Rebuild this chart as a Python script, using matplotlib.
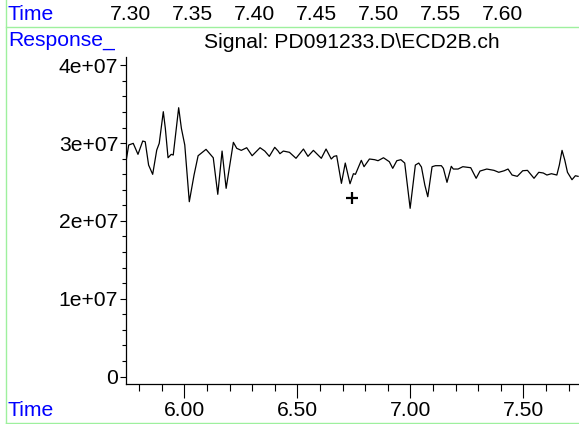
import matplotlib
matplotlib.use("Agg")
import matplotlib.pyplot as plt
from matplotlib.lines import Line2D
from matplotlib.ticker import MultipleLocator

plt.rcParams['font.family'] = ['Liberation Sans', 'DejaVu Sans']

# trace (time in min, response)
times = [5.742, 5.754, 5.774, 5.795, 5.816, 5.827, 5.842, 5.860, 5.878, 5.889,
         5.907, 5.916, 5.928, 5.942, 5.951, 5.975, 5.987, 6.002, 6.022, 6.043,
         6.061, 6.096, 6.128, 6.148, 6.167, 6.185, 6.217, 6.232, 6.252, 6.276,
         6.300, 6.335, 6.356, 6.376, 6.400, 6.415, 6.423, 6.438, 6.465, 6.494,
         6.527, 6.547, 6.571, 6.606, 6.627, 6.650, 6.662, 6.674, 6.695, 6.712,
         6.733, 6.748, 6.757, 6.783, 6.795, 6.819, 6.842, 6.857, 6.881, 6.907,
         6.922, 6.940, 6.958, 6.975, 6.999, 7.022, 7.037, 7.049, 7.064, 7.077,
         7.096, 7.111, 7.137, 7.146, 7.162, 7.181, 7.190, 7.211, 7.232, 7.267,
         7.291, 7.308, 7.338, 7.370, 7.391, 7.415, 7.432, 7.450, 7.473, 7.497,
         7.518, 7.547, 7.568, 7.588, 7.604, 7.624, 7.648, 7.659, 7.671, 7.683,
         7.695, 7.715, 7.730, 7.742]
response = [2.761, 2.976, 2.997, 2.856, 3.027, 3.018, 2.718, 2.599, 2.911, 2.997,
            3.404, 3.190, 2.812, 2.856, 2.847, 3.455, 3.190, 2.976, 2.247, 2.590,
            2.838, 2.920, 2.812, 2.342, 2.898, 2.419, 3.010, 2.933, 2.907, 2.941,
            2.838, 2.941, 2.898, 2.830, 2.946, 2.898, 2.864, 2.898, 2.882, 2.805,
            2.924, 2.830, 2.907, 2.805, 2.924, 2.796, 2.830, 2.838, 2.483, 2.744,
            2.478, 2.607, 2.599, 2.779, 2.697, 2.796, 2.787, 2.774, 2.812, 2.761,
            2.676, 2.774, 2.787, 2.744, 2.162, 2.718, 2.744, 2.693, 2.461, 2.311,
            2.697, 2.710, 2.710, 2.676, 2.496, 2.702, 2.667, 2.667, 2.697, 2.684,
            2.548, 2.641, 2.667, 2.650, 2.625, 2.645, 2.667, 2.590, 2.573, 2.645,
            2.650, 2.548, 2.625, 2.616, 2.590, 2.607, 2.590, 2.718, 2.907, 2.783,
            2.625, 2.530, 2.581, 2.573]
response = [v * 1e7 for v in response]

cross_time = [6.742]
cross_resp = [2.294e7]

y_ticks = [0, 1e7, 2e7, 3e7, 4e7]
y_labels = ["0", "1e+07", "2e+07", "3e+07", "4e+07"]
x_ticks = [6.0, 6.5, 7.0, 7.5]
x_labels = ["6.00", "6.50", "7.00", "7.50"]
top_ticks = [7.30, 7.35, 7.40, 7.45, 7.50, 7.55, 7.60]
top_labels = ["7.30", "7.35", "7.40", "7.45", "7.50", "7.55", "7.60"]
signal_name = "Signal: PD091233.D\\ECD2B.ch"

FS = 15.2
BLUE = "#0000ff"
GREEN = "#9ef09e"

fig = plt.figure(figsize=(5.79, 4.24), dpi=100)

# header strip with its own time scale (labels centred on y = 14 px)
hdr = fig.add_axes([0, 1 - 14 / 424, 1, 0.0001])
hdr.set_xlim(7.195, 7.662)
hdr.set_xticks(top_ticks)
hdr.set_xticklabels(top_labels, fontsize=FS)
hdr.tick_params(axis='x', length=0, pad=0)
for lab in hdr.get_xticklabels():
    lab.set_va('center')
hdr.set_yticks([])
for s in hdr.spines.values():
    s.set_visible(False)
hdr.patch.set_alpha(0)

ax = fig.add_axes([126 / 579, 1 - 384 / 424, 1 - 126 / 579, (384 - 57) / 424])
ax.plot(times, response, color='black', lw=0.9, solid_joinstyle='round')
ax.plot(cross_time, cross_resp, marker='+', color='black', ms=8.5, mew=1.6, ls='none')

ax.set_xlim(5.742, 7.746)
ax.set_ylim(-0.96e6, 4.107e7)
ax.set_xticks(x_ticks)
ax.set_xticklabels(x_labels, fontsize=FS)
ax.xaxis.set_minor_locator(MultipleLocator(0.1))
ax.set_yticks(y_ticks)
ax.set_yticklabels(y_labels, fontsize=FS)
ax.yaxis.set_minor_locator(MultipleLocator(2e6))
ax.tick_params(axis='x', which='major', length=10, width=0.8, pad=2)
ax.tick_params(axis='x', which='minor', length=5, width=0.8)
ax.tick_params(axis='y', which='major', length=4, width=0.8, pad=1.5)
ax.tick_params(axis='y', which='minor', length=3, width=0.8)
ax.spines['top'].set_visible(False)
ax.spines['right'].set_visible(False)
ax.spines['left'].set_linewidth(0.9)
ax.spines['bottom'].set_linewidth(0.9)
ax.patch.set_alpha(0)

fig.text(8 / 579, 1 - 14 / 424, "Time", color=BLUE, fontsize=FS, va='center')
fig.text(8 / 579, 1 - 41 / 424, "Response_", color=BLUE, fontsize=FS, va='center')
fig.text(352 / 579, 1 - 43 / 424, signal_name, fontsize=FS, ha='center', va='center')
fig.text(8 / 579, 1 - 410 / 424, "Time", color=BLUE, fontsize=FS, va='center')

# light green frame lines
fig.add_artist(Line2D([6 / 579, 6 / 579], [0, 1], transform=fig.transFigure, color=GREEN, lw=1))
fig.add_artist(Line2D([6 / 579, 1], [1 - 27 / 424, 1 - 27 / 424], transform=fig.transFigure, color=GREEN, lw=1))
fig.add_artist(Line2D([6 / 579, 1], [1 - 423 / 424, 1 - 423 / 424], transform=fig.transFigure, color=GREEN, lw=1))

fig.savefig("out.png", dpi=100)
